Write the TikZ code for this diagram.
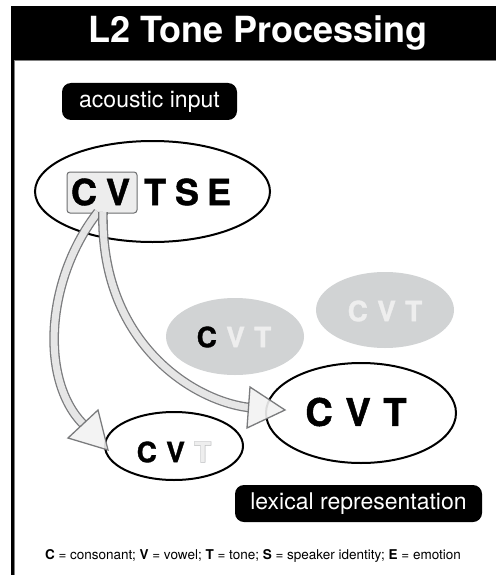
\documentclass[tikz,border=0pt]{standalone}
\usepackage{fontspec}
\setmainfont{TeX Gyre Heros}
\newfontfamily\heavyfont{texgyreheros-bold.otf}[FakeBold=1.2]
\newfontfamily\outlinefont{texgyreheros-bold.otf}[FakeBold=3]
\usetikzlibrary{shapes.geometric,calc}
\definecolor{ovalgray}{HTML}{D1D3D4}
\definecolor{lettergray}{HTML}{EEEEEE}
\definecolor{tline}{HTML}{BDBEC0}
\definecolor{arrowfill}{HTML}{F2F2F2}
\definecolor{arrowline}{HTML}{6D6E70}
\definecolor{boxfill}{HTML}{EDEDED}
\tikzset{
  pill/.style={fill=black, rounded corners=9pt, text=white, inner sep=0pt,
    font=\fontsize{23}{23}\selectfont},
  oval/.style={ellipse, draw=black, line width=2pt, inner sep=0pt},
  grayoval/.style={ellipse, fill=ovalgray, inner sep=0pt},
  letter/.style={font=\heavyfont\fontsize{#1}{#1}\selectfont, inner sep=0pt},
  shaft/.style={draw=arrowline, line width=1.3pt, double=arrowfill, double distance=7pt, opacity=0.9},
  head/.style={fill=arrowfill, draw=arrowline, line width=1.3pt, line join=miter, opacity=0.9},
}
\begin{document}
\begin{tikzpicture}[x=1pt,y=-1pt]
\useasboundingbox (0,0) rectangle (496,575);
\fill[white] (0,0) rectangle (496,575);
% frame
\fill[black] (11,6) rectangle (496,60);
\fill[black] (11,60) rectangle (13.5,575);
\draw[gray, line width=0.8pt] (13.9,575) -- (13.9,60.4) -- (496,60.4);
\node[text=white, font=\bfseries\fontsize{36}{36}\selectfont] (title) at (258,33) {L2 Tone Processing};

% acoustic input
\node[pill, minimum width=175pt, minimum height=37pt] (ai) at (149.5,101.5) {acoustic input};

% input ellipse
\node[oval, minimum width=235pt, minimum height=101pt] (inp) at (152.5,191.5) {};
\node[draw=arrowline, fill=boxfill, rounded corners=3pt, line width=1pt,
      minimum width=70pt, minimum height=41pt] (cvbox) at (102,192.5) {};
\node[letter=36] (iC) at (84,192) {C};
\node[letter=36] (iV) at (118,192) {V};
\node[letter=36] (iT) at (155,192) {T};
\node[letter=36] (iS) at (187,192) {S};
\node[letter=36] (iE) at (219,192) {E};

% gray ellipses
\node[grayoval, minimum width=138pt, minimum height=77pt] (g1) at (235,336.5) {};
\node[letter=28, anchor=center] (g1t) at (234,337) {C\,\,\textcolor{lettergray}{V\,\,T}};
\node[grayoval, minimum width=138pt, minimum height=76pt] (g2) at (385,310) {};
\node[letter=28, text=lettergray] (g2t) at (385,311) {C\,\,V\,\,T};

% output ellipses
\node[oval, minimum width=190pt, minimum height=100pt] (big) at (361,413) {};
\node[letter=38] (bigt) at (356,412) {C\,\,V\,\,T};
\node[oval, minimum width=138pt, minimum height=68pt] (small) at (174,446) {};
\node[letter=28] (smallt) at (174,452) {C\,\,V\,\,\textcolor{white}{T}};
\node[font=\outlinefont\fontsize{28}{28}\selectfont, inner sep=0pt, text=tline, anchor=east] (tout) at (smallt.east) {T};
\node[font=\bfseries\fontsize{28}{28}\selectfont, inner sep=0pt, text=lettergray, anchor=center] (tin) at (tout.center) {T};

% arrows
\coordinate (s1) at (98,212);
\coordinate (b1) at (83,424);
\coordinate (s2) at (103,212);
\coordinate (b2) at (248.5,407.5);
\draw[shaft] (s1) .. controls (45,280) and (40,380) .. (b1);
\draw[shaft] (s2) .. controls (100,340) and (190,400) .. (b2);
\draw[head] (68,438) -- (98,410) -- (108,450) -- cycle;
\draw[head] (250,387) -- (285,410) -- (247,428) -- cycle;

% lexical representation
\node[pill, minimum width=247pt, minimum height=37pt] (lex) at (358.5,503.5) {lexical representation};

% legend
\node[font=\fontsize{13.5}{13.5}\selectfont] (legend) at (253,556)
  {\textbf{C} = consonant; \textbf{V} = vowel; \textbf{T} = tone; \textbf{S} = speaker identity; \textbf{E} = emotion};
\end{tikzpicture}
\end{document}
